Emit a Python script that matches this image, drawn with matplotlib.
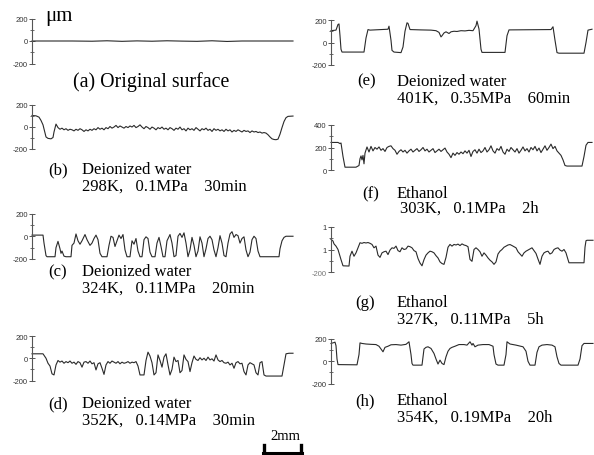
import numpy as np
import matplotlib
matplotlib.use("Agg")
import matplotlib.pyplot as plt
from matplotlib.lines import Line2D

# ---------------- data (position along scan, height in µm) ----------------
a_x = [0, 40, 60, 75, 90, 105, 120, 135, 150, 165, 180, 195, 210, 261]
a_y = [0, 0, -2, 2, -3, 1, -2, 2, -1, -3, 2, -4, 0, 0]

b_x = [0, 4, 7, 9, 11, 13, 14, 16, 19, 21, 22, 23, 24, 25, 26, 28, 30, 32, 34, 36, 38, 40,
       42, 44, 46, 48, 50, 52, 54, 56, 58, 60, 62, 64, 66, 68, 70, 72, 74, 76, 78, 80, 82,
       84, 86, 88, 90, 92, 94, 96, 98, 100, 102, 104, 106, 108, 110, 112, 114, 116, 118,
       120, 122, 124, 126, 128, 130, 132, 134, 136, 138, 140, 142, 144, 146, 148, 150, 152,
       154, 156, 158, 160, 162, 164, 166, 168, 170, 172, 174, 176, 178, 180, 182, 184, 186,
       188, 190, 192, 194, 196, 198, 200, 202, 204, 206, 208, 210, 212, 214, 216, 218, 220,
       222, 224, 226, 228, 230, 232, 234, 236, 238, 240, 242, 244, 246, 248, 250, 252, 254,
       256, 261]
b_y = [100, 97, 85, 55, 15, -60, -95, -108, -112, -100, -50, -15, 22, 5, -10, -25, -15, -30,
       -20, -35, -25, -30, -40, -25, -35, -20, -30, -45, -30, -40, -25, -35, -20, -30, -10,
       -25, -15, -30, -10, -20, 0, -15, -5, 10, -10, 5, -5, -15, 0, -10, 5, -5, 10, -10, 0,
       15, -5, -20, 0, -10, -25, -5, -15, -30, -10, -20, -5, -25, -15, -30, -10, -20, -35,
       -15, -25, -5, -30, -20, -40, -15, -30, -20, -35, -10, -25, -40, -20, -30, -15, -35,
       -25, -45, -20, -35, -25, -40, -30, -45, -25, -40, -30, -50, -35, -45, -30, -40, -50,
       -35, -45, -40, -55, -40, -50, -45, -55, -50, -60, -55, -60, -75, -95, -112, -118,
       -120, -115, -70, -10, 45, 80, 92, 95]

c_x = [0, 11, 12, 14, 15, 23, 24, 26, 28, 29, 30, 32, 34, 39, 40, 42, 44, 46, 48, 50, 53,
       55, 58, 60, 62, 64, 66, 68, 70, 75, 77, 79, 81, 83, 85, 87, 89, 91, 93, 95, 98, 100,
       102, 104, 106, 108, 110, 112, 114, 116, 118, 120, 123, 125, 127, 129, 131, 133, 135,
       138, 140, 142, 144, 146, 148, 150, 152, 154, 156, 158, 160, 162, 164, 166, 168, 170,
       172, 174, 176, 178, 180, 182, 184, 186, 188, 190, 192, 194, 196, 198, 200, 202, 204,
       206, 208, 210, 212, 214, 216, 218, 220, 222, 224, 226, 228, 247, 248, 250, 252, 254,
       261]
c_y = [10, 10, -60, -170, -180, -180, -100, -45, -110, -150, -130, -175, -180, -180, -80,
       -60, 20, -40, -70, -40, 15, -30, -80, -60, -20, 10, -30, -150, -180, -180, -80, 0,
       -10, -90, -40, 10, -20, 15, -120, -180, -180, -40, -70, -20, -130, -180, -180, -30,
       -5, -20, -140, -180, -180, -60, -10, -90, -180, -180, -40, 15, -60, -180, -170, 0,
       25, -10, 30, -60, -180, -120, -10, -80, -180, -130, -5, -60, -180, -110, -20, 0, -30,
       -120, -180, -100, 5, -60, -170, -180, -60, 20, 40, -10, 15, 5, -60, -20, -5, -120,
       -180, -140, -30, 0, -20, -130, -180, -180, -110, -40, -10, 0, 0]

d_x = [0, 11, 14, 16, 18, 20, 22, 24, 26, 28, 30, 32, 34, 36, 38, 40, 42, 44, 46, 48, 50,
       52, 54, 56, 58, 60, 62, 64, 66, 68, 70, 72, 74, 76, 78, 80, 82, 84, 86, 88, 90, 92,
       94, 96, 98, 100, 102, 104, 106, 108, 110, 112, 114, 116, 118, 120, 122, 124, 126,
       128, 130, 132, 134, 136, 138, 140, 142, 144, 146, 148, 150, 152, 154, 156, 158, 160,
       162, 164, 166, 168, 170, 172, 174, 176, 178, 180, 182, 184, 186, 188, 190, 192, 194,
       196, 198, 200, 202, 204, 206, 208, 210, 212, 214, 216, 218, 220, 222, 224, 226, 228,
       230, 232, 234, 250, 252, 254, 257, 261]
d_y = [40, 40, 0, -45, -70, -140, -150, -60, -20, -35, -25, -45, -30, -40, -25, -45, -35,
       -55, -30, -40, -80, -35, -30, -45, -25, -50, -40, -105, -50, -40, -90, -145, -60,
       -30, -45, -25, -35, -45, -30, -50, -35, -45, -40, -30, -45, -35, -40, -30, -70, -150,
       -150, -150, -20, 55, 20, -40, -150, -130, 30, -20, -80, 10, 40, -60, -150, -100, 10,
       -30, -20, -130, -110, 30, -10, -30, -120, -40, 20, -10, -20, 5, -15, 0, -20, 10, -15,
       -5, -25, 30, -15, -30, -20, -40, -45, -35, -60, -45, -90, -40, -30, -50, -45, -120,
       -150, -60, -40, -50, -60, -130, -150, -40, -30, -150, -160, -160, -60, 40, 45, 45]

e_x = [0, 5, 7, 8, 9, 10, 11, 33, 35, 37, 39, 57, 58, 60, 61, 63, 70, 72, 74, 76, 77, 79,
       90, 100, 105, 108, 110, 111, 113, 115, 118, 120, 123, 126, 130, 134, 138, 142, 145,
       146, 148, 150, 151, 174, 176, 178, 220, 222, 224, 226, 228, 253, 255, 257, 261]
e_y = [105, 110, 160, 165, 60, -60, -85, -85, 40, 115, 110, 118, 145, 20, -70, -85, -90,
       -40, 100, 175, 170, 115, 112, 110, 105, 90, 50, 60, 85, 95, 80, 95, 100, 98, 105, 103,
       108, 105, 150, 190, 120, -60, -88, -88, 60, 112, 115, 140, 20, -90, -95, -95, 0, 110,
       118]

f_x = [0, 7, 9, 10, 12, 14, 25, 28, 29, 30, 31, 32, 33, 34, 36, 38, 40, 42, 44, 46, 48, 50,
       52, 54, 56, 58, 60, 62, 64, 66, 68, 70, 72, 74, 76, 78, 80, 82, 84, 86, 88, 90, 92,
       94, 96, 98, 100, 102, 104, 106, 108, 110, 112, 114, 116, 118, 120, 122, 124, 126,
       128, 130, 132, 134, 136, 138, 140, 142, 144, 146, 148, 150, 152, 154, 156, 158, 160,
       162, 164, 166, 168, 170, 172, 174, 176, 178, 180, 182, 184, 186, 188, 190, 192, 194,
       196, 198, 200, 202, 204, 206, 208, 210, 212, 214, 216, 218, 220, 222, 224, 226, 228,
       230, 232, 234, 236, 251, 253, 255, 257, 261]
f_y = [245, 245, 235, 240, 120, 25, 25, 40, 100, 125, 90, 130, 55, 150, 205, 160, 210, 170,
       200, 185, 205, 175, 190, 165, 200, 210, 215, 190, 175, 140, 165, 180, 160, 175, 150,
       170, 185, 160, 175, 190, 165, 180, 200, 170, 185, 160, 175, 190, 155, 170, 185, 165,
       180, 195, 160, 140, 110, 150, 130, 155, 140, 160, 145, 170, 150, 175, 120, 165, 180,
       150, 185, 155, 170, 200, 160, 180, 215, 170, 150, 190, 175, 210, 160, 140, 185, 165,
       200, 180, 160, 190, 150, 175, 205, 170, 190, 160, 200, 180, 210, 170, 195, 155, 185,
       215, 175, 200, 230, 190, 210, 170, 150, 130, 90, 40, 35, 35, 120, 220, 245, 245]

g_x = [0, 2, 3, 5, 7, 8, 10, 12, 18, 19, 21, 23, 25, 27, 29, 31, 33, 35, 37, 39, 41, 43, 45,
       47, 49, 51, 53, 55, 57, 59, 61, 63, 65, 67, 69, 71, 73, 75, 77, 79, 81, 83, 85, 87,
       89, 91, 93, 95, 97, 99, 101, 103, 105, 107, 109, 111, 113, 115, 117, 119, 121, 123,
       125, 127, 129, 131, 133, 135, 137, 139, 141, 143, 145, 147, 149, 151, 153, 155, 157,
       159, 161, 163, 165, 167, 169, 171, 173, 175, 177, 179, 181, 183, 185, 187, 189, 191,
       193, 195, 197, 199, 201, 203, 205, 207, 209, 211, 213, 215, 217, 219, 221, 223, 225,
       227, 229, 231, 233, 235, 237, 238, 253, 254, 255, 256, 262]
g_y = [90, 75, 50, 30, 0, -30, -90, -145, -147, -60, -15, -60, -30, 15, 60, 55, 62, 58, 62,
       55, 45, 15, 30, -50, -70, -30, -20, -15, -45, -5, 15, 10, 30, -10, -20, 15, 0, 5, 30,
       25, 15, -10, -20, -80, -120, -145, -90, -50, -30, -15, -20, -30, -55, -75, -110,
       -125, -132, -70, 20, 45, 30, 45, 40, 48, 35, 50, 40, 35, 25, -88, -105, 0, 15, 0,
       -20, -60, -30, -50, -75, -95, -110, -132, -110, -40, -15, 0, 20, 30, 40, 44, 35, 25,
       15, -20, -40, -60, -30, -15, -5, 5, 15, -10, -35, -85, -132, -60, -30, -20, -15, -40,
       -30, 0, 10, 15, -5, -15, 0, -30, -90, -118, -118, 20, 78, 82, 82]

h_x = [0, 3, 4, 5, 6, 7, 26, 28, 29, 31, 35, 40, 45, 48, 50, 52, 54, 57, 60, 65, 70, 75,
       78, 80, 81, 82, 91, 93, 95, 97, 100, 103, 105, 107, 109, 111, 113, 115, 117, 119,
       121, 124, 128, 133, 136, 139, 141, 142, 144, 147, 152, 158, 162, 163, 165, 167, 173,
       175, 176, 179, 185, 192, 195, 197, 199, 204, 206, 208, 211, 216, 221, 224, 226, 228,
       230, 247, 249, 251, 253, 262]
h_y = [160, 168, 172, 140, 20, -30, -32, 60, 165, 160, 155, 152, 150, 135, 110, 85, 125,
       135, 148, 150, 145, 152, 175, 60, -20, -35, -35, 110, 125, 130, 115, 70, 20, -25, 10,
       -20, -30, 40, 90, 115, 125, 135, 150, 150, 145, 175, 145, 160, 130, 145, 150, 150,
       135, 60, -25, -35, -35, 60, 175, 155, 145, 130, 90, 0, -35, -35, 80, 130, 145, 150,
       145, 130, 40, -20, -35, -35, 20, 140, 160, 160]

# ---------------- figure ----------------
W, H = 594, 456
fig = plt.figure(figsize=(W / 100, H / 100), dpi=100)
fig.patch.set_facecolor("white")

SERIF = "Liberation Serif"
SANS = "Liberation Sans"
LINE_C = "#2a2a2a"
AX_C = "#555555"


def panel(xs, ys, x0, ytop, ybot, width, xmax, ylim, majors, labels, minors, lab_colors=None):
    ax = fig.add_axes([x0 / W, 1 - ybot / H, width / W, (ybot - ytop) / H])
    ax.patch.set_alpha(0)
    ax.plot(xs, ys, color=LINE_C, lw=0.8, clip_on=False)
    ax.set_xlim(0, xmax)
    ax.set_ylim(*ylim)
    for s in ("top", "right", "bottom"):
        ax.spines[s].set_visible(False)
    ax.spines["left"].set_color(AX_C)
    ax.spines["left"].set_linewidth(0.8)
    ax.set_xticks([])
    ax.set_yticks(majors)
    ax.set_yticks(minors, minor=True)
    ax.set_yticklabels(labels, fontsize=5.5, family=SANS, color="#333333")
    if lab_colors:
        for t, c in zip(ax.get_yticklabels(), lab_colors):
            t.set_color(c)
    ax.tick_params(axis="y", which="major", direction="inout", length=4, width=0.7,
                   color=AX_C, pad=1)
    ax.tick_params(axis="y", which="minor", direction="inout", length=3, width=0.6,
                   color=AX_C)
    return ax


std_major = [-200, 0, 200]
std_lab = ["-200", "0", "200"]
std_minor = [-100, 100]

# left column
panel(a_x, a_y, 32, 19.5, 64.5, 261, 261, (-200, 200), std_major, std_lab, std_minor)
panel(b_x, b_y, 32, 105.5, 149.5, 261, 261, (-200, 200), std_major, std_lab, std_minor)
panel(c_x, c_y, 32, 214.5, 260, 261, 261, (-200, 200), std_major, std_lab, std_minor)
panel(d_x, d_y, 32, 337, 381.5, 261, 261, (-200, 200), std_major, std_lab, std_minor)

# right column
panel(e_x, e_y, 331, 21, 66, 262, 262, (-200, 200), std_major, std_lab, std_minor)
panel(f_x, f_y, 331, 126, 171, 262, 262, (0, 400), [0, 200, 400], ["0", "200", "400"],
      [100, 300])
panel(g_x, g_y, 331, 228, 273, 262, 262, (-200, 200), std_major, ["-200", "1", "1"],
      std_minor, lab_colors=["#777777", "#333333", "#333333"])
panel(h_x, h_y, 331, 340, 384.5, 262, 262, (-200, 200), std_major, std_lab, std_minor)


def txt(x, y, s, size=12, ha="left"):
    fig.text(x / W, 1 - y / H, s, ha=ha, va="center", fontsize=size, family=SERIF,
             color="black")


txt(45, 16, "μm", 15)
txt(73, 82, "(a) Original surface", 14.3)

txt(48, 170, "(b)")
txt(82, 170, "Deionized water")
txt(82, 186.5, "298K,   0.1MPa    30min")

txt(48, 272.5, "(c)")
txt(82, 272.5, "Deionized water")
txt(82, 289, "324K,   0.11MPa    20min")

txt(48, 404, "(d)")
txt(82, 404, "Deionized water")
txt(82, 420.5, "352K,   0.14MPa    30min")

txt(357, 81.5, "(e)")
txt(397, 81.5, "Deionized water")
txt(397, 98.5, "401K,   0.35MPa    60min")

txt(362, 194, "(f)")
txt(397, 194, "Ethanol")
txt(400, 209, "303K,   0.1MPa    2h")

txt(355, 303, "(g)")
txt(397, 303, "Ethanol")
txt(397, 319.5, "327K,   0.11MPa    5h")

txt(355, 401, "(h)")
txt(397, 401, "Ethanol")
txt(397, 417.5, "354K,   0.19MPa    20h")

# scale bar
txt(300, 437, "2mm", 10.5, ha="right")
fig.add_artist(Line2D([263 / W, 302 / W], [1 - 454 / H] * 2, lw=2.2, color="black"))
for xb in (264, 301.2):
    fig.add_artist(Line2D([xb / W] * 2, [1 - 446 / H, 1 - 455.5 / H], lw=2.4, color="black"))

fig.savefig("out.png", dpi=100, facecolor="white")
